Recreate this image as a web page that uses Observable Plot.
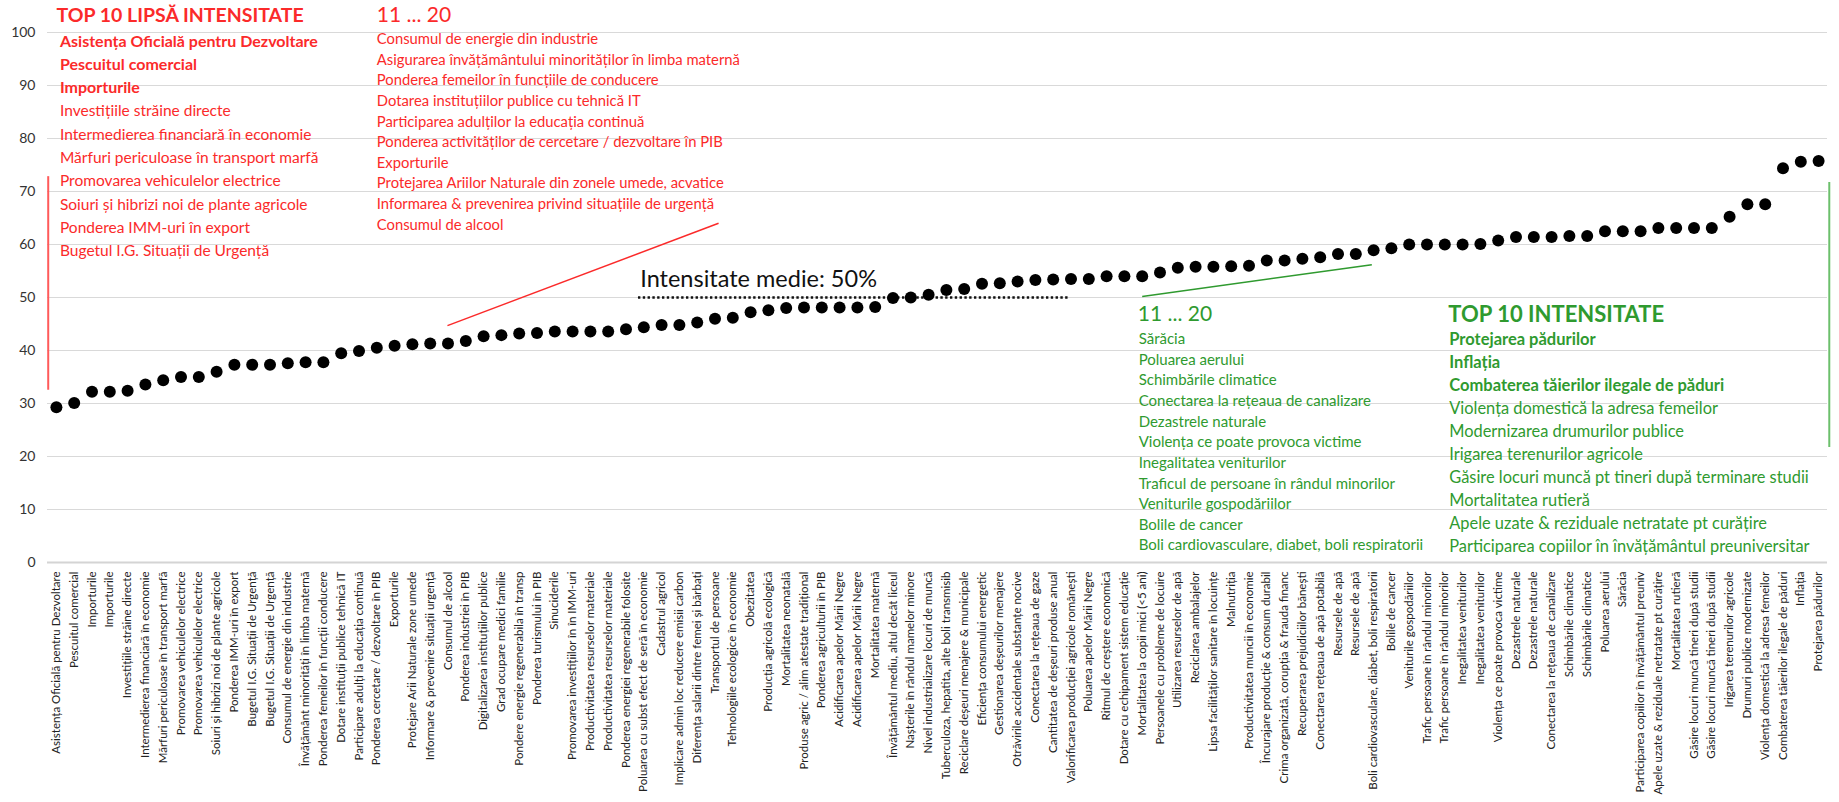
<!DOCTYPE html>
<html>
<head>
<meta charset="utf-8">
<script src="https://cdn.jsdelivr.net/npm/d3@7"></script>
<script src="https://cdn.jsdelivr.net/npm/@observablehq/plot@0.6"></script>
<style>
  body { margin: 0; background: #fff; }
  #chart svg { display: block; }
</style>
</head>
<body>
<div id="chart"></div>
<script>
// ---- Data ----
const categories = [
  "Asistența Oficială pentru Dezvoltare","Pescuitul comercial","Importurile","Importurile",
  "Investițiile străine directe","Intermedierea financiară în economie","Mărfuri periculoase în transport marfă",
  "Promovarea vehiculelor electrice","Promovarea vehiculelor electrice","Soiuri și hibrizi noi de plante agricole",
  "Ponderea IMM-uri în export","Bugetul I.G. Situații de Urgență","Bugetul I.G. Situații de Urgență",
  "Consumul de energie din industrie","Învățământ minorități în limba maternă","Ponderea femeilor în funcții conducere",
  "Dotare instituții publice tehnică IT","Participare adulți la educația continuă","Ponderea cercetare / dezvoltare în PIB",
  "Exporturile","Protejare Arii Naturale zone umede","Informare & prevenire situații urgență","Consumul de alcool",
  "Ponderea industriei în PIB","Digitalizarea instituțiilor publice","Grad ocupare medici familie",
  "Pondere energie regenerabila în transp","Ponderea turismului în PIB","Sinuciderile",
  "Promovarea investițiilor în în IMM-uri","Productivitatea resurselor materiale","Productivitatea resurselor materiale",
  "Ponderea energiei regenerabile folosite","Poluarea cu subst efect de seră în economie","Cadastrul agricol",
  "Implicare admin loc reducere emisii carbon","Diferența salarii dintre femei și bărbați","Transportul de persoane",
  "Tehnologiile ecologice în economie","Obezitatea","Producția agricolă ecologică","Mortalitatea neonatală",
  "Produse agric / alim atestate tradițional","Ponderea agriculturii în PIB","Acidificarea apelor Mării Negre",
  "Acidificarea apelor Mării Negre","Mortalitatea maternă","Învățământul mediu, altul decât liceul",
  "Nașterile în rândul mamelor minore","Nivel industrializare locuri de muncă","Tuberculoza, hepatita, alte boli transmisib",
  "Reciclare deșeuri menajere & municipale","Eficiența consumului energetic","Gestionarea deșeurilor menajere",
  "Otrăvirile accidentale substanțe nocive","Conectarea la rețeaua de gaze","Cantitatea de deșeuri produse anual",
  "Valorificarea producției agricole românești","Poluarea apelor Mării Negre","Ritmul de creștere economică",
  "Dotare cu echipament sistem educație","Mortalitatea la copii mici (<5 ani)","Persoanele cu probleme de locuire",
  "Utilizarea resurselor de apă","Reciclarea ambalajelor","Lipsa facilităților sanitare în locuințe","Malnutriția",
  "Productivitatea muncii în economie","Încurajare producție & consum durabil","Crima organizată, corupția & frauda financ",
  "Recuperarea prejudiciilor bănești","Conectarea rețeaua de apă potabilă","Resursele de apă","Resursele de apă",
  "Boli cardiovasculare, diabet, boli respiratorii","Bolile de cancer","Veniturile gospodăriilor",
  "Trafic persoane în rândul minorilor","Trafic persoane în rândul minorilor","Inegalitatea veniturilor",
  "Inegalitatea veniturilor","Violența ce poate provoca victime","Dezastrele naturale","Dezastrele naturale",
  "Conectarea la rețeaua de canalizare","Schimbările climatice","Schimbările climatice","Poluarea aerului","Sărăcia",
  "Participarea copiilor în învățământul preuniv","Apele uzate & reziduale netratate pt curățire","Mortalitatea rutieră",
  "Găsire locuri muncă tineri după studii","Găsire locuri muncă tineri după studii","Irigarea terenurilor agricole",
  "Drumuri publice modernizate","Violența domestică la adresa femeilor","Combaterea tăierilor ilegale de păduri",
  "Inflația","Protejarea pădurilor"
];
const values = [
  29.3,30.1,32.2,32.2,32.4,33.6,34.4,35.0,35.0,36.0,
  37.3,37.3,37.3,37.6,37.8,37.8,39.5,39.9,40.5,40.9,
  41.2,41.3,41.3,41.8,42.7,42.9,43.2,43.3,43.6,43.6,
  43.6,43.6,44.0,44.4,44.8,44.8,45.3,46.0,46.2,47.2,
  47.6,48.0,48.1,48.1,48.1,48.1,48.2,49.9,50.0,50.5,
  51.4,51.6,52.6,52.7,53.0,53.3,53.4,53.5,53.5,54.0,
  54.0,54.0,54.7,55.6,55.8,55.8,55.9,56.0,57.0,57.0,
  57.3,57.6,58.2,58.2,58.9,59.3,60.0,60.0,60.0,60.0,
  60.1,60.75,61.4,61.4,61.4,61.6,61.6,62.5,62.5,62.5,
  63.1,63.1,63.1,63.1,65.25,67.6,67.6,74.4,75.6,75.75
];
const yTicks = [0,10,20,30,40,50,60,70,80,90,100];
const averageValue = 50;
const averageLabel = "Intensitate medie: 50%";

// Annotation texts
const lowTitle = "TOP 10 LIPSĂ INTENSITATE";
const lowBold = ["Asistența Oficială pentru Dezvoltare","Pescuitul comercial","Importurile"];
const lowRest = ["Investițiile străine directe","Intermedierea financiară în economie","Mărfuri periculoase în transport marfă",
  "Promovarea vehiculelor electrice","Soiuri și hibrizi noi de plante agricole","Ponderea IMM-uri în export","Bugetul I.G. Situații de Urgență"];
const lowNextTitle = "11 ... 20";
const lowNext = ["Consumul de energie din industrie","Asigurarea învățământului minorităților în limba maternă",
  "Ponderea femeilor în funcțiile de conducere","Dotarea instituțiilor publice cu tehnică IT",
  "Participarea adulților la educația continuă","Ponderea activităților de cercetare / dezvoltare în PIB","Exporturile",
  "Protejarea Ariilor Naturale din zonele umede, acvatice","Informarea & prevenirea privind situațiile de urgență","Consumul de alcool"];
const highNextTitle = "11 ... 20";
const highNext = ["Sărăcia","Poluarea aerului","Schimbările climatice","Conectarea la rețeaua de canalizare","Dezastrele naturale",
  "Violența ce poate provoca victime","Inegalitatea veniturilor","Traficul de persoane în rândul minorilor",
  "Veniturile gospodăriilor","Bolile de cancer","Boli cardiovasculare, diabet, boli respiratorii"];
const highTitle = "TOP 10 INTENSITATE";
const highBold = ["Protejarea pădurilor","Inflația","Combaterea tăierilor ilegale de păduri"];
const highRest = ["Violența domestică la adresa femeilor","Modernizarea drumurilor publice","Irigarea terenurilor agricole",
  "Găsire locuri muncă pt tineri după terminare studii","Mortalitatea rutieră","Apele uzate & reziduale netratate pt curățire",
  "Participarea copiilor în învățământul preuniversitar"];

// ---- Build ----
const RED = "#fb2a2a", GREEN = "#2f9a2f";
const data = values.map((v, i) => ({i, v, name: categories[i]}));

function lines(arr, x, y0, step, offset = 0) {
  return arr.map((t, k) => ({t, x, y: y0 - (k + offset) * step}));
}
function textBlock(rows, opts) {
  return Plot.text(rows, {x: "x", y: "y", text: "t", textAnchor: "start", lineAnchor: "middle", ...opts});
}

const chart = Plot.plot({
  width: 1839,
  height: 802,
  marginLeft: 47,
  marginRight: 12,
  marginTop: 32,
  marginBottom: 240,
  x: {domain: [-0.5, 99.5]},
  y: {domain: [0, 100]},
  style: {fontFamily: "Lato, 'Open Sans', sans-serif", background: "#fff", overflow: "visible"},
  marks: [
    Plot.gridY(yTicks, {stroke: "#d9d9d9", strokeOpacity: 1}),
    Plot.axisY({ticks: yTicks, tickSize: 0, tickPadding: 12, fontSize: 14, fill: "#333", label: null}),
    Plot.axisX({ticks: d3.range(categories.length), tickFormat: i => categories[i], tickRotate: -90,
      tickSize: 0, tickPadding: 9, fontSize: 11.5, fill: "#222", label: null}),
    Plot.ruleY([0], {stroke: "#d4d4d4", strokeWidth: 2}),
    // average
    Plot.ruleY([averageValue], {x1: 32.7, x2: 56.9, stroke: "#111", strokeWidth: 2.4, strokeDasharray: "2.4,2.4"}),
    Plot.text([averageLabel], {x: 32.8, y: 51.9, text: d => d, textAnchor: "start", lineAnchor: "bottom", fontSize: 23.5, fill: "#111"}),
    // red side lines
    Plot.ruleX([-0.46], {y1: 32.5, y2: 72.8, stroke: "#ff5a5a", strokeWidth: 2}),
    Plot.link([{x1: 21.97, y1: 44.7, x2: 37.2, y2: 64.0}], {x1: "x1", y1: "y1", x2: "x2", y2: "y2", stroke: RED, strokeWidth: 1.5}),
    // green side lines
    Plot.ruleX([99.6], {y1: 21.7, y2: 71.7, stroke: "#6cc06c", strokeWidth: 2}),
    Plot.link([{x1: 61.0, y1: 50.2, x2: 73.9, y2: 56.2}], {x1: "x1", y1: "y1", x2: "x2", y2: "y2", stroke: GREEN, strokeWidth: 1.5}),
    // dots
    Plot.dot(data, {x: "i", y: "v", r: 6, fill: "#000", stroke: "none"}),
    // red annotations
    textBlock(lines([lowTitle], 0, 103.2, 0), {fontSize: 19.5, fontWeight: "bold", fill: RED}),
    textBlock(lines(lowBold, 0.2, 98.3, 4.4), {fontSize: 16, fontWeight: "bold", fill: RED}),
    textBlock(lines(lowRest, 0.2, 98.3, 4.4, 3), {fontSize: 15.5, fill: RED}),
    textBlock(lines([lowNextTitle], 18.0, 103.2, 0), {fontSize: 21, fill: RED}),
    textBlock(lines(lowNext, 18.0, 98.7, 3.89), {fontSize: 14.8, fill: RED}),
    // green annotations
    textBlock(lines([highNextTitle], 60.75, 46.8, 0), {fontSize: 21, fill: GREEN}),
    textBlock(lines(highNext, 60.8, 42.1, 3.89), {fontSize: 15, fill: GREEN}),
    textBlock(lines([highTitle], 78.2, 46.8, 0), {fontSize: 22, fontWeight: "bold", fill: GREEN}),
    textBlock(lines(highBold, 78.25, 42.1, 4.34), {fontSize: 16.5, fontWeight: "bold", fill: GREEN}),
    textBlock(lines(highRest, 78.25, 42.1, 4.34, 3), {fontSize: 16.4, fill: GREEN})
  ]
});
document.getElementById("chart").append(chart);
</script>
</body>
</html>
